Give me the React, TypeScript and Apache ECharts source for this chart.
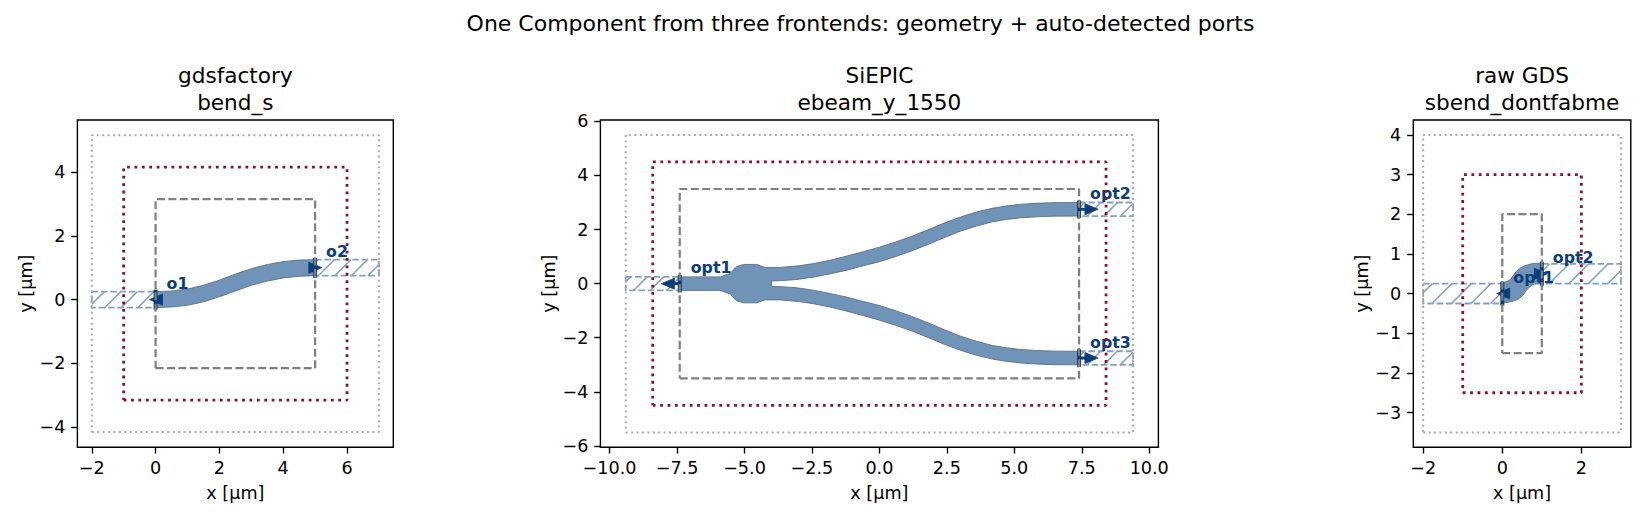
import React, { useEffect, useRef } from "react";
import * as echarts from "echarts";

const FONT = '"DejaVu Sans"';
const suptitle = "One Component from three frontends: geometry + auto-detected ports";
const panelTitles = ["gdsfactory\nbend_s", "SiEPIC\nebeam_y_1550", "raw GDS\nsbend_dontfabme"];

const xTicks = [[-2, 0, 2, 4, 6], [-10, -7.5, -5, -2.5, 0, 2.5, 5, 7.5, 10], [-2, 0, 2]];
const yTicks = [[-4, -2, 0, 2, 4], [-6, -4, -2, 0, 2, 4, 6], [-3, -2, -1, 0, 1, 2, 3, 4]];
const xRanges = [[-2.45, 7.45], [-10.34, 10.34], [-2.25, 3.25]];
const yRanges = [[-4.63, 5.63], [-6.05, 6.05], [-3.875, 4.375]];

// [xmin, xmax, ymin, ymax]
const dottedBoxes = [[-2, 7, -4.15, 5.15], [-9.4, 9.4, -5.5, 5.5], [-2, 3, -3.5, 4]];
const redBoxes = [[-1, 6, -3.15, 4.15], [-8.4, 8.4, -4.5, 4.5], [-1, 2, -2.5, 3]];
const dashedBoxes = [[0, 5, -2.15, 3.15], [-7.4, 7.4, -3.5, 3.5], [0, 1, -1.5, 2]];

// port bands: [xStart, xEnd, yCentre]
const bands = [
  [[-2, 0, 0], [5, 7, 1]],
  [[-9.4, -7.4, 0], [7.4, 9.4, 2.75], [7.4, 9.4, -2.75]],
  [[-2, 0, 0], [1, 3, 0.5]],
];

const bendS = [
  [0, 0.25], [0.5, 0.27], [1, 0.33], [1.5, 0.45], [2, 0.61], [2.5, 0.8], [3, 0.97], [3.5, 1.1], [4, 1.19], [4.5, 1.24], [5, 1.25],
  [5, 0.75], [4.5, 0.73], [4, 0.68], [3.5, 0.58], [3, 0.45], [2.5, 0.27], [2, 0.09], [1.5, -0.07], [1, -0.18], [0.5, -0.23], [0, -0.25],
];
const yJunction = [
  [-7.4, 0.25], [-5.9, 0.25], [-5.53, 0.38], [-5.29, 0.63], [-5.04, 0.71], [-4.55, 0.71], [-4.24, 0.6], [-3.68, 0.6], [-3, 0.66], [-2.45, 0.74],
  [-1.8, 0.87], [-1.2, 1.02], [-0.6, 1.18], [0, 1.35], [0.6, 1.54], [1.2, 1.75], [1.8, 1.99], [2.4, 2.24], [3, 2.46], [3.6, 2.65], [4.2, 2.79], [4.7, 2.87], [5.2, 2.93], [5.8, 2.97], [6.43, 2.995], [7.4, 3],
  [7.4, 2.5], [6.43, 2.495], [5.8, 2.47], [5.2, 2.43], [4.7, 2.37], [4.2, 2.29], [3.6, 2.13], [3, 1.94], [2.4, 1.7], [1.8, 1.45], [1.2, 1.21], [0.6, 1], [0, 0.81], [-0.6, 0.66], [-1.2, 0.5], [-1.8, 0.37], [-2.45, 0.24], [-3.08, 0.15], [-3.68, 0.11], [-4, 0.1],
  [-4, -0.1], [-3.68, -0.11], [-3.08, -0.15], [-2.45, -0.24], [-1.8, -0.37], [-1.2, -0.5], [-0.6, -0.66], [0, -0.81], [0.6, -1], [1.2, -1.21], [1.8, -1.45], [2.4, -1.7], [3, -1.94], [3.6, -2.13], [4.2, -2.29], [4.7, -2.37], [5.2, -2.43], [5.8, -2.47], [6.43, -2.495], [7.4, -2.5],
  [7.4, -3], [6.43, -2.995], [5.8, -2.97], [5.2, -2.93], [4.7, -2.87], [4.2, -2.79], [3.6, -2.65], [3, -2.46], [2.4, -2.24], [1.8, -1.99], [1.2, -1.75], [0.6, -1.54], [0, -1.35], [-0.6, -1.18], [-1.2, -1.02], [-1.8, -0.87], [-2.45, -0.74], [-3, -0.66], [-3.68, -0.6], [-4.24, -0.6], [-4.55, -0.71], [-5.04, -0.71], [-5.29, -0.63], [-5.53, -0.38], [-5.9, -0.25], [-7.4, -0.25],
];
const sBend = [
  [0, 0.27], [0.1, 0.3], [0.19, 0.34], [0.27, 0.44], [0.35, 0.55], [0.45, 0.64], [0.56, 0.7], [0.77, 0.76], [1, 0.77],
  [1, 0.25], [0.81, 0.24], [0.72, 0.19], [0.65, 0.13], [0.58, 0.04], [0.52, -0.04], [0.42, -0.13], [0.31, -0.18], [0.15, -0.22], [0, -0.24],
];
const waveguides = [bendS, yJunction, sBend];

// ports: [x, y, direction, half width, arrow length]
const ports = [
  [[0, 0, -1, 0.25, 0.19], [5, 1, 1, 0.25, 0.21]],
  [[-7.4, 0, -1, 0.25, 0.68], [7.4, 2.75, 1, 0.25, 0.7], [7.4, -2.75, 1, 0.25, 0.7]],
  [[0, 0, -1, 0.25, 0.14], [1, 0.5, 1, 0.25, 0.14]],
];
const portNames = [["o1", "o2"], ["opt1", "opt2", "opt3"], ["opt1", "opt2"]];

const grids = [
  { left: 77.4, top: 120, width: 315.9, height: 327.3 },
  { left: 600.4, top: 120, width: 558, height: 327.3 },
  { left: 1413.3, top: 120, width: 217.5, height: 327.3 },
];
const hatchSpacing = [16.5, 16.5, 19.5];
const NAVY = "#0b3d78";
const HATCH = "#85a0bf";

const fmt = (p: number) => (v: number) => {
  const s = p === 1 ? v.toFixed(1) : String(v);
  return s.replace("-", "\u2212");
};

function boxPath(b: number[]) {
  return [[b[0], b[2]], [b[1], b[2]], [b[1], b[3]], [b[0], b[3]], [b[0], b[2]]];
}

function boxSeries(p: number, b: number[], color: string, width: number, dash: number[]) {
  return {
    type: "line", xAxisIndex: p, yAxisIndex: p, data: boxPath(b), symbol: "none", silent: true, clip: false,
    lineStyle: { color, width, type: dash },
  };
}

function buildOption() {
  const series: any[] = [];
  for (let p = 0; p < 3; p++) {
    series.push(boxSeries(p, dottedBoxes[p], "#aaaaaa", 2, [2, 3.4]));
    series.push({
      type: "custom", xAxisIndex: p, yAxisIndex: p, data: bands[p], silent: true, clip: false,
      encode: { x: 0, y: 2 },
      renderItem: (_: any, api: any) => {
        const a = api.coord([api.value(0), api.value(2) + 0.25]);
        const b = api.coord([api.value(1), api.value(2) - 0.25]);
        const x0 = Math.min(a[0], b[0]), x1 = Math.max(a[0], b[0]), y0 = a[1], y1 = b[1];
        const children: any[] = [];
        const s = hatchSpacing[p];
        for (let c = Math.ceil((x0 + y0) / s) * s; c <= x1 + y1; c += s) {
          const xa = Math.max(x0, c - y1), xb = Math.min(x1, c - y0);
          if (xb <= xa) continue;
          children.push({ type: "line", shape: { x1: xa, y1: c - xa, x2: xb, y2: c - xb }, style: { stroke: HATCH, lineWidth: 1.5, fill: null } });
        }
        children.push({
          type: "polyline",
          shape: { points: [[x0, y0], [x1, y0], [x1, y1], [x0, y1], [x0, y0]] },
          style: { stroke: HATCH, lineWidth: 1.8, lineDash: [6.5, 2.8], fill: null },
        });
        return { type: "group", children };
      },
    });
    series.push(boxSeries(p, redBoxes[p], "#860f3c", 2.8, [2.8, 4.6]));
    series.push({
      type: "custom", xAxisIndex: p, yAxisIndex: p, data: waveguides[p], silent: true, clip: false,
      encode: { x: 0, y: 1 },
      renderItem: (params: any, api: any) => {
        if (params.dataIndex !== 0) return null;
        return {
          type: "polygon",
          shape: { points: waveguides[p].map((q) => api.coord(q)) },
          style: { fill: "#7093b8", stroke: "#5c6f85", lineWidth: 0.9 },
        };
      },
    });
    series.push(boxSeries(p, dashedBoxes[p], "#808080", 2.2, [8, 3.4]));
    series.push({
      type: "custom", xAxisIndex: p, yAxisIndex: p, data: ports[p], silent: true, clip: false,
      encode: { x: 0, y: 1 },
      renderItem: (params: any, api: any) => {
        const [px, py] = api.coord([api.value(0), api.value(1)]);
        const dir = api.value(2);
        const hw = api.size([0, api.value(3)])[1];
        const tipX = api.coord([api.value(0) + dir * api.value(4), api.value(1)])[0];
        const baseX = tipX - dir * 13;
        const children: any[] = [
          { type: "line", shape: { x1: px, y1: py - hw, x2: px, y2: py + hw }, style: { stroke: NAVY, lineWidth: 4, lineCap: "square" } },
          { type: "polygon", shape: { points: [[tipX, py], [baseX, py - 5.5], [baseX, py + 5.5]] }, style: { fill: NAVY, stroke: NAVY, lineWidth: 0.8 } },
          { type: "text", x: px + 11, y: py - 8, style: { text: portNames[p][params.dataIndex], fill: NAVY, fontFamily: FONT, fontWeight: "bold", fontSize: 15.8, align: "left", verticalAlign: "bottom" } },
        ];
        if (dir * (baseX - px) > 0) {
          children.push({ type: "line", shape: { x1: px, y1: py, x2: baseX, y2: py }, style: { stroke: NAVY, lineWidth: 3 } });
        }
        return { type: "group", children };
      },
    });
  }
  const axisCommon = {
    type: "value", nameLocation: "middle", nameMoveOverlap: false, nameTextStyle: { fontFamily: FONT, fontSize: 17.6, color: "#000" },
    axisLine: { show: false, onZero: false }, splitLine: { show: false },
  };
  const tick = (vals: number[]) => ({ show: true, customValues: vals, length: 6.2, inside: false, lineStyle: { color: "#000", width: 1.4 } });
  const label = (vals: number[], p: number) => ({ show: true, customValues: vals, margin: 12, color: "#000", fontFamily: FONT, fontSize: 17.6, formatter: fmt(p) });
  return {
    animation: false,
    backgroundColor: "#fff",
    title: [
      { text: suptitle, left: 860.5, top: 12, padding: 0, textAlign: "center", textStyle: { fontFamily: FONT, fontSize: 22, fontWeight: "normal", color: "#000" } },
      ...panelTitles.map((t, i) => ({
        text: t, left: grids[i].left + grids[i].width / 2, top: 62, padding: 0, textAlign: "center",
        textStyle: { fontFamily: FONT, fontSize: 21.6, lineHeight: 27, fontWeight: "normal", color: "#000" },
      })),
    ],
    grid: grids.map((g) => ({ ...g, show: true, borderColor: "#000", borderWidth: 1.4, containLabel: false, backgroundColor: "#fff" })),
    xAxis: xTicks.map((t, i) => ({
      ...axisCommon, gridIndex: i, min: xRanges[i][0], max: xRanges[i][1], name: "x [\u00b5m]", nameGap: 37,
      axisTick: tick(t), axisLabel: label(t, i),
    })),
    yAxis: yTicks.map((t, i) => ({
      ...axisCommon, gridIndex: i, min: yRanges[i][0], max: yRanges[i][1], name: "y [\u00b5m]", nameGap: 42,
      axisTick: tick(t), axisLabel: label(t, 0),
    })),
    series,
  };
}

export default function App() {
  const ref = useRef<HTMLDivElement>(null);
  useEffect(() => {
    const chart = echarts.init(ref.current!, undefined, { renderer: "svg" });
    chart.setOption(buildOption() as any);
    return () => chart.dispose();
  }, []);
  return <div ref={ref} style={{ position: "fixed", left: 0, top: 0, width: 1644, height: 516 }} />;
}
